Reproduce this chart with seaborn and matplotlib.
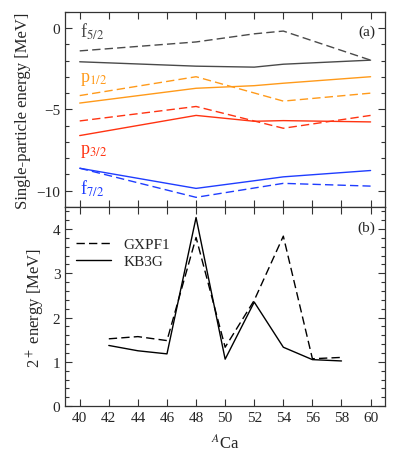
import seaborn as sns
import matplotlib.pyplot as plt
from matplotlib.ticker import MultipleLocator

# single-particle energies (MeV), solid = KB3G, dashed = GXPF1
A_solid = [40, 48, 52, 54, 60]
A_dash = [40, 48, 52, 54, 60]
A_dash4 = [40, 48, 54, 60]

f52_solid = [-2.07, -2.34, -2.40, -2.22, -1.97]
f52_dash = [-1.40, -0.85, -0.35, -0.18, -1.97]
p12_solid = [-4.61, -3.70, -3.54, -3.39, -2.99]
p12_dash = [-4.15, -2.99, -4.49, -4.00]
p32_solid = [-6.61, -5.37, -5.73, -5.69, -5.77]
p32_dash = [-5.71, -4.82, -6.16, -5.37]
f72_solid = [-8.62, -9.86, -9.39, -9.15, -8.76]
f72_dash = [-8.62, -10.41, -9.55, -9.72]

# 2+ energies (MeV)
A_2p = [42, 44, 46, 48, 50, 52, 54, 56, 58]
gxpf1 = [1.52, 1.57, 1.48, 3.81, 1.33, 2.39, 3.84, 1.07, 1.10]
kb3g = [1.37, 1.25, 1.18, 4.26, 1.06, 2.35, 1.33, 1.05, 1.02]

gray = '#4a4a4a'
orange = '#ff9a1a'
red = '#ff3311'
blue = '#1f3dff'
lw = 1.0

sns.set_style("ticks")
plt.rcParams['font.family'] = ['Liberation Serif', 'DejaVu Serif']
plt.rcParams['mathtext.fontset'] = 'stix'
plt.rcParams['xtick.direction'] = 'in'
plt.rcParams['ytick.direction'] = 'in'

fig = plt.figure(figsize=(3.95, 4.6), dpi=100)
ax1 = fig.add_axes([0.165, 0.548, 0.81, 0.424])
ax2 = fig.add_axes([0.165, 0.115, 0.81, 0.433], sharex=ax1)

series = [
    (A_solid, f52_solid, A_dash, f52_dash, gray),
    (A_solid, p12_solid, A_dash4, p12_dash, orange),
    (A_solid, p32_solid, A_dash4, p32_dash, red),
    (A_solid, f72_solid, A_dash4, f72_dash, blue),
]
for xs, ys, xd, yd, col in series:
    sns.lineplot(x=xs, y=ys, ax=ax1, color=col, linewidth=lw)
    sns.lineplot(x=xd, y=yd, ax=ax1, color=col, linewidth=lw, linestyle=(0, (6, 3)))

labels = [(r'f$_{5/2}$', -0.15, gray), (r'p$_{1/2}$', -3.1, orange),
          (r'p$_{3/2}$', -7.55, red), (r'f$_{7/2}$', -9.8, blue)]
for txt, yy, col in labels:
    ax1.text(40, yy, txt, color=col, fontsize=13, va='center', ha='left')

ax1.set_ylim(-11, 1)
ax1.yaxis.set_major_locator(MultipleLocator(5))
ax1.yaxis.set_minor_locator(MultipleLocator(1))
ax1.set_ylabel('Single-particle energy [MeV]', fontsize=12)
ax1.text(0.97, 0.9, '(a)', transform=ax1.transAxes, ha='right', va='center', fontsize=11)
ax1.tick_params(labelbottom=False)

sns.lineplot(x=A_2p, y=gxpf1, ax=ax2, color='black', linewidth=lw,
             linestyle=(0, (6, 3)), label='GXPF1')
sns.lineplot(x=A_2p, y=kb3g, ax=ax2, color='black', linewidth=lw, label='KB3G')
ax2.set_ylim(0, 4.5)
ax2.yaxis.set_major_locator(MultipleLocator(1))
ax2.yaxis.set_minor_locator(MultipleLocator(0.2))
ax2.set_ylabel(r'2$^+$ energy [MeV]', fontsize=12)
ax2.set_xlabel(r'$^{A}$Ca', fontsize=12, labelpad=7)
ax2.text(0.97, 0.9, '(b)', transform=ax2.transAxes, ha='right', va='center', fontsize=11)
ax2.legend(loc='upper left', frameon=False, fontsize=11, handlelength=2.3,
           bbox_to_anchor=(0.0, 0.9), borderaxespad=0.3, labelspacing=0.2)

ax2.set_xlim(39, 61)
ax2.xaxis.set_major_locator(MultipleLocator(2))

for ax in (ax1, ax2):
    ax.tick_params(which='both', top=True, right=True, labelsize=11, width=0.8, color='#333333')
    ax.tick_params(which='major', length=5)
    ax.tick_params(which='minor', length=3)
    for s in ax.spines.values():
        s.set_linewidth(0.9)
        s.set_color('#333333')

fig.align_ylabels([ax1, ax2])
fig.savefig('out.png', dpi=100)
